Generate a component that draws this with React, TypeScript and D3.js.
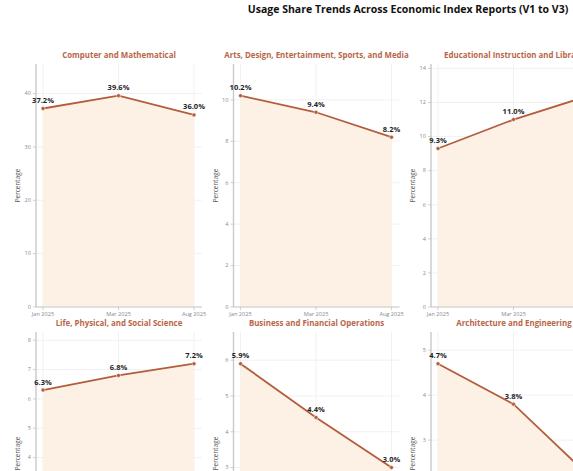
import React from 'react';
import * as d3 from 'd3';

// report periods (V1, V2, V3)
const periods = ['Jan 2025', 'Mar 2025', 'Aug 2025'];

// occupation categories, in grid order
const categories = [
  'Computer and Mathematical',
  'Arts, Design, Entertainment, Sports, and Media',
  'Educational Instruction and Library',
  'Life, Physical, and Social Science',
  'Business and Financial Operations',
  'Architecture and Engineering',
];

// usage share (%) for each category per report
const computerMath = [37.2, 39.6, 36.0];
const artsMedia = [10.2, 9.4, 8.2];
const education = [9.3, 11.0, 12.4];
const lifeScience = [6.3, 6.8, 7.2];
const business = [5.9, 4.4, 3.0];
const architecture = [4.7, 3.8, 2.2];

const seriesValues = [computerMath, artsMedia, education, lifeScience, business, architecture];

const W = 573;
const H = 471;
const COLS = 3;
const colStep = 197.5;
const rowStep = 268;
const plotLeft = 36;
const plotTop = 64;
const plotW = 166;
const plotH = 243;

const LINE = '#b35d3d';
const FILL = '#fdf1e5';
const TITLE = '#b8664a';
const FONT = '"Open Sans", "Noto Sans", sans-serif';

function Panel({ title, values, ox, oy }: { title: string; values: number[]; ox: number; oy: number }) {
  const x = d3.scalePoint<string>().domain(periods).range([7, plotW - 8]);
  const y = d3.scaleLinear().domain([0, (d3.max(values) ?? 0) * 1.15]).range([plotH, 0]);
  const ticks = y.ticks(6);
  const pts = periods.map((p, i) => ({ p, v: values[i] }));

  const line = d3.line<{ p: string; v: number }>().x(d => x(d.p) ?? 0).y(d => y(d.v));
  const area = d3.area<{ p: string; v: number }>().x(d => x(d.p) ?? 0).y0(y(0)).y1(d => y(d.v));

  return (
    <g transform={`translate(${ox},${oy})`}>
      <text x={plotW / 2} y={-6} textAnchor="middle" fontSize={7.9} fontWeight={700} fill={TITLE}>
        {title}
      </text>
      {ticks.map(t => (
        <line key={'g' + t} x1={0} x2={plotW} y1={y(t)} y2={y(t)} stroke="#ebebeb" strokeWidth={0.7} />
      ))}
      {periods.map(p => (
        <line key={'v' + p} x1={x(p)} x2={x(p)} y1={0} y2={plotH} stroke="#ebebeb" strokeWidth={0.7} />
      ))}
      <path d={area(pts) || ''} fill={FILL} />
      <line x1={0} x2={0} y1={0} y2={plotH} stroke="#c9c9c9" strokeWidth={1.4} />
      <line x1={0} x2={plotW} y1={plotH} y2={plotH} stroke="#c9c9c9" strokeWidth={1} />
      {ticks.map(t => (
        <g key={'t' + t} transform={`translate(0,${y(t)})`}>
          <line x1={-3} x2={0} stroke="#bbb" strokeWidth={0.7} />
          <text x={-5} dy="0.32em" textAnchor="end" fontSize={5.6} fill="#8a8a8a">{t}</text>
        </g>
      ))}
      {periods.map(p => (
        <g key={'x' + p} transform={`translate(${x(p)},${plotH})`}>
          <line y1={0} y2={3} stroke="#bbb" strokeWidth={0.7} />
          <text y={9} textAnchor="middle" fontSize={5.6} fill="#8a8a8a">{p}</text>
        </g>
      ))}
      <text transform={`translate(-16,${plotH / 2}) rotate(-90)`} textAnchor="middle" fontSize={6.4} fill="#555">
        Percentage
      </text>
      <path d={line(pts) || ''} fill="none" stroke={LINE} strokeWidth={1.8} />
      {pts.map(d => (
        <g key={'p' + d.p}>
          <circle cx={x(d.p)} cy={y(d.v)} r={2} fill={LINE} stroke="#fff" strokeWidth={0.5} />
          <text x={x(d.p)} y={y(d.v) - 5.5} textAnchor="middle" fontSize={7.5} fontWeight={700} fill="#1f1f1f">
            {d.v.toFixed(1)}%
          </text>
        </g>
      ))}
    </g>
  );
}

export default function App() {
  return (
    <div style={{ position: 'fixed', left: 0, top: 0, width: W, height: H, overflow: 'hidden', background: '#fff' }}>
      <svg width={W} height={H} style={{ display: 'block', fontFamily: FONT }}>
        <text x={408} y={13} textAnchor="middle" fontSize={10.5} fontWeight={700} fill="#111">
          Usage Share Trends Across Economic Index Reports (V1 to V3)
        </text>
        {categories.map((c, i) => (
          <Panel
            key={c}
            title={c}
            values={seriesValues[i]}
            ox={plotLeft + (i % COLS) * colStep}
            oy={plotTop + Math.floor(i / COLS) * rowStep}
          />
        ))}
      </svg>
    </div>
  );
}
